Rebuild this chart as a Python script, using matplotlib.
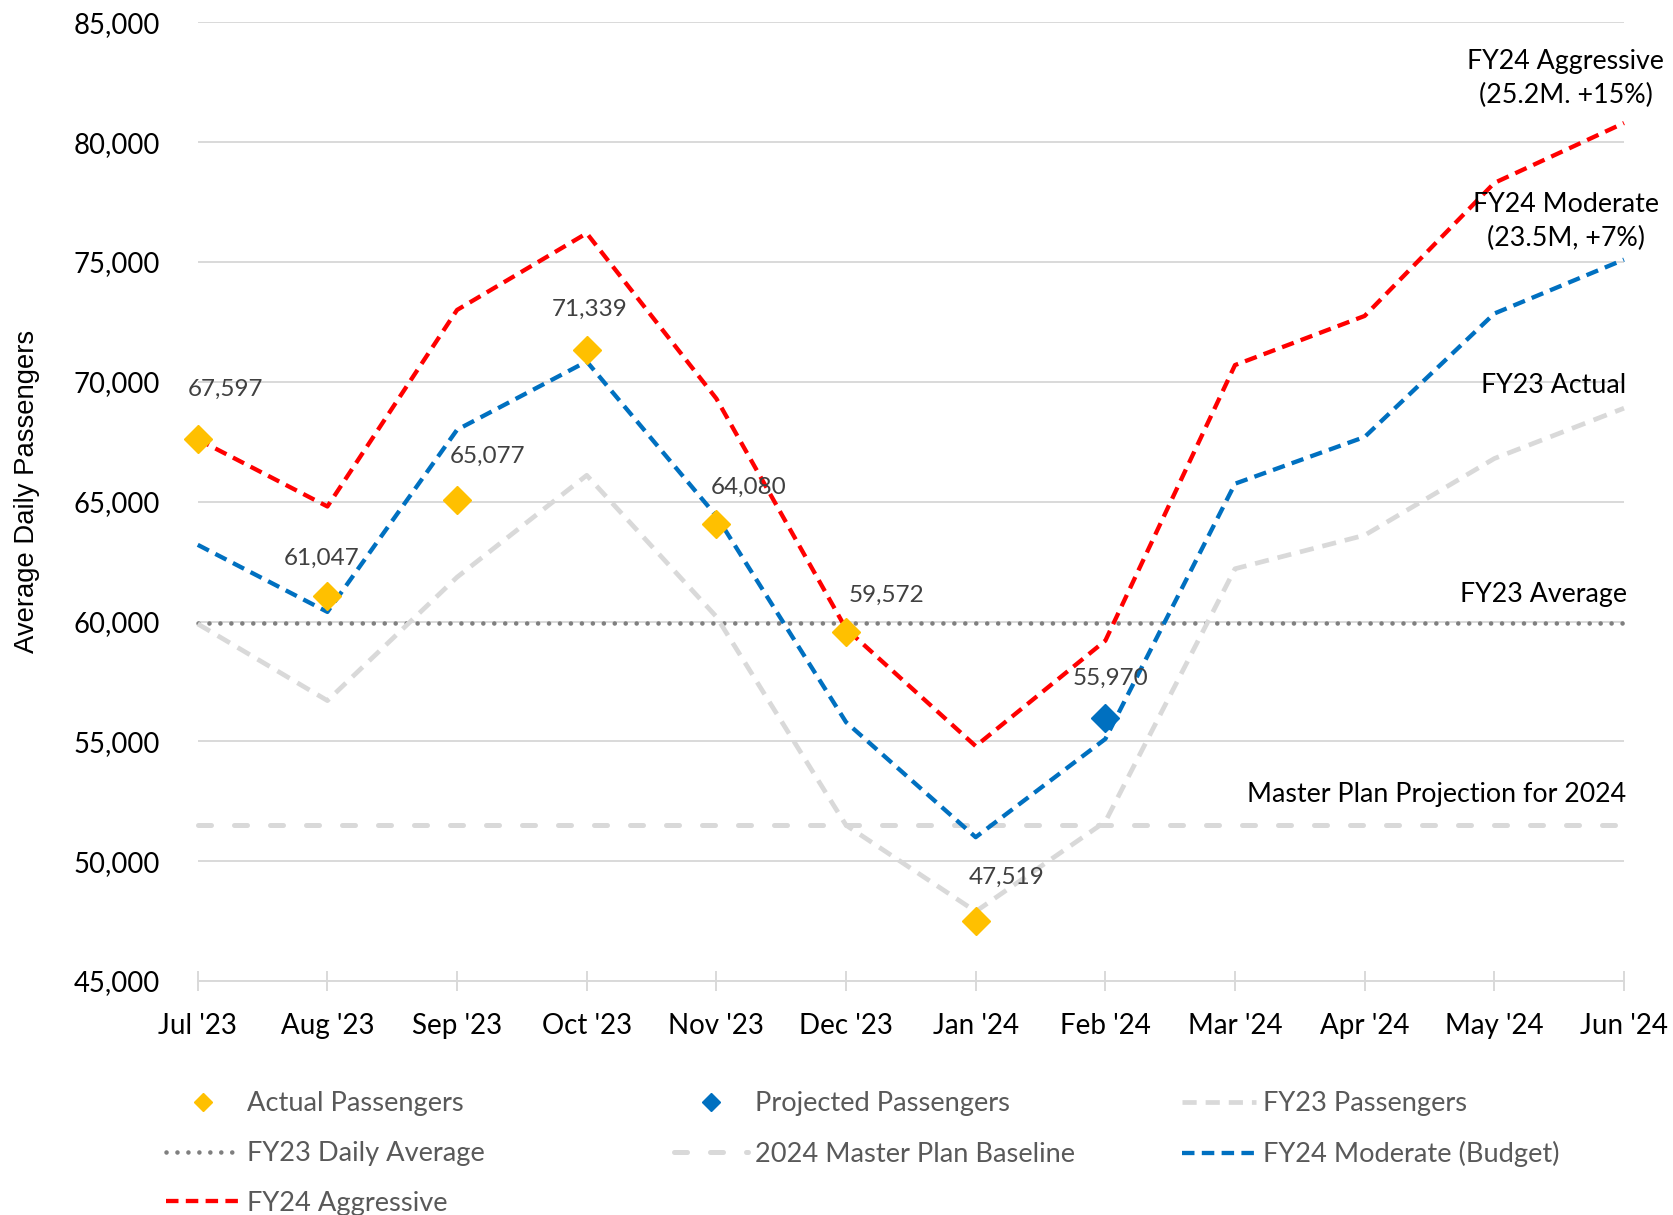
import matplotlib
matplotlib.use("Agg")
import matplotlib.pyplot as plt
from matplotlib.ticker import FuncFormatter, MultipleLocator

# ---------------- data ----------------
months = ["Jul '23", "Aug '23", "Sep '23", "Oct '23", "Nov '23", "Dec '23",
          "Jan '24", "Feb '24", "Mar '24", "Apr '24", "May '24", "Jun '24"]
actual_passengers = [67597, 61047, 65077, 71339, 64080, 59572, 47519]
projected_month = ["Feb '24"]
projected_passengers = [55970]
fy23_passengers = [59900, 56700, 61850, 66100, 60200, 51500,
                   47900, 51650, 62200, 63600, 66800, 68900]
fy24_moderate = [63200, 60400, 68000, 70850, 64400, 55800,
                 51000, 55100, 65750, 67700, 72850, 75100]
fy24_aggressive = [67600, 64800, 73000, 76200, 69300, 59700,
                   54800, 59200, 70700, 72750, 78300, 80800]
fy23_daily_average = 59930
master_plan_baseline = 51500

# ---------------- style ----------------
FONT = ["Lato", "DejaVu Sans"]
plt.rcParams["font.family"] = FONT

RED = "#FF0000"
BLUE = "#0070C0"
LGRAY = "#D9D9D9"
DGRAY = "#7F7F7F"
GOLD = "#FFC000"
LABEL = "#404040"
LEGTXT = "#595959"

fig = plt.figure(figsize=(16.73, 12.15), dpi=100)
ax = fig.add_axes([0.1182, 0.1926, 0.9707 - 0.1182, 0.9816 - 0.1926])

x = list(range(len(months)))
x_actual = x[:len(actual_passengers)]
x_proj = [months.index(m) for m in projected_month]

# reference lines
h_avg, = ax.plot([x[0], x[-1]], [fy23_daily_average] * 2, color=DGRAY, lw=3.3,
                 linestyle=(0, (0.01, 2.38)), dash_capstyle="round", zorder=2,
                 clip_on=False)
h_mp, = ax.plot([x[0], x[-1]], [master_plan_baseline] * 2, color=LGRAY, lw=3.6,
                linestyle=(0, (2.6, 4.6)), dash_capstyle="round", zorder=2,
                clip_on=False)
h_fy23, = ax.plot(x, fy23_passengers, color=LGRAY, lw=3.4,
                  linestyle=(0, (3.0, 1.9)), zorder=2, clip_on=False)
h_mod, = ax.plot(x, fy24_moderate, color=BLUE, lw=3.1,
                 linestyle=(0, (2.9, 1.7)), zorder=3, clip_on=False)
h_agg, = ax.plot(x, fy24_aggressive, color=RED, lw=3.1,
                 linestyle=(0, (2.9, 1.7)), zorder=3, clip_on=False)
h_act, = ax.plot(x_actual, actual_passengers, linestyle="none", marker="D",
                 ms=14, color=GOLD, zorder=5, clip_on=False)
h_proj, = ax.plot(x_proj, projected_passengers, linestyle="none", marker="D",
                  ms=14, color=BLUE, zorder=5, clip_on=False)

# data labels (offsets in points)
label_offsets = [(20, 36), (-4, 27.5), (22, 31.5), (2, 29), (23, 26),
                 (29, 26), (22, 31.5)]
for xi, v, (dx, dy) in zip(x_actual, actual_passengers, label_offsets):
    ax.annotate(f"{v:,}", (xi, v), xytext=(dx, dy), textcoords="offset points",
                ha="center", va="center", fontsize=17.5, color=LABEL,
                zorder=6)
for xi, v in zip(x_proj, projected_passengers):
    ax.annotate(f"{v:,}", (xi, v), xytext=(4, 28.5), textcoords="offset points",
                ha="center", va="center", fontsize=17.5, color=LABEL, zorder=6)

# series annotations on the right
ax.text(10.55, 82670, "FY24 Aggressive\n(25.2M. +15%)", ha="center",
        va="center", fontsize=19.3, color="black", linespacing=1.45)
ax.text(10.55, 76700, "FY24 Moderate\n(23.5M, +7%)", ha="center",
        va="center", fontsize=19.3, color="black", linespacing=1.45)
ax.text(11.02, 69835, "FY23 Actual", ha="right", va="center", fontsize=19.3,
        color="black")
ax.text(11.02, 61112, "FY23 Average", ha="right", va="center", fontsize=19.3,
        color="black")
ax.text(11.02, 52764, "Master Plan Projection for 2024", ha="right",
        va="center", fontsize=19.3, color="black")

# axes
ax.set_xlim(0, 11)
ax.set_ylim(45000, 85000)
ax.set_xticks(x)
ax.set_xticklabels(months)
ax.yaxis.set_major_locator(MultipleLocator(5000))
ax.yaxis.set_major_formatter(FuncFormatter(lambda v, p: f"{int(v):,}"))
ax.tick_params(axis="y", length=0, pad=27, labelsize=19.8, labelcolor="black")
ax.tick_params(axis="x", direction="inout", length=13.7, width=1.4,
               color=LGRAY, pad=16, labelsize=20, labelcolor="black")
ax.yaxis.grid(True, color=LGRAY, lw=1.4)
ax.set_axisbelow(True)
for s in ["left", "right", "top"]:
    ax.spines[s].set_visible(False)
ax.spines["bottom"].set_color(LGRAY)
ax.spines["bottom"].set_linewidth(1.4)

fig.text(27 / 1673, 1 - 491 / 1215, "Average Daily Passengers", rotation=90,
         ha="center", va="center", fontsize=19.8, color="black",
         family=["Liberation Sans", "DejaVu Sans"])

# legend (three columns, row-major like the original)
entries = [(h_act, "Actual Passengers"), (h_proj, "Projected Passengers"),
           (h_fy23, "FY23 Passengers"), (h_avg, "FY23 Daily Average"),
           (h_mp, "2024 Master Plan Baseline"), (h_mod, "FY24 Moderate (Budget)"),
           (h_agg, "FY24 Aggressive")]
col_x = [166 / 1673, 674 / 1673, 1182 / 1673]
row_y = [1 - 1104 / 1215, 1 - 1154 / 1215, 1 - 1203 / 1215]
for i, (h, lab) in enumerate(entries):
    r, c = divmod(i, 3)
    fig.legend([h], [lab], loc="center left", bbox_to_anchor=(col_x[c], row_y[r]),
               bbox_transform=fig.transFigure, frameon=False, borderpad=0,
               borderaxespad=0, handlelength=2.73, handletextpad=0.25,
               markerscale=0.62, fontsize=19.6, labelcolor=LEGTXT)

fig.savefig("out.png", dpi=100)
